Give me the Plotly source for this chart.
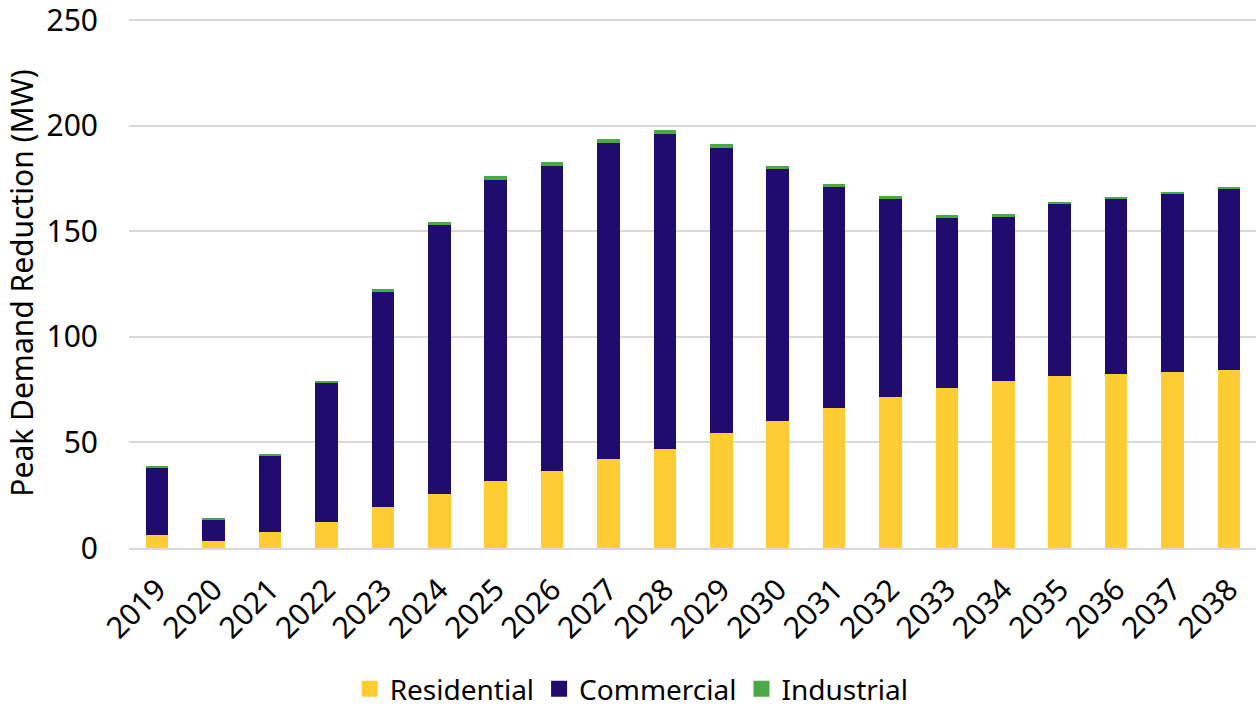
import plotly.graph_objects as go

years = [str(y) for y in range(2019, 2039)]
residential = [6.2, 3.5, 7.4, 12.4, 19.3, 25.7, 31.7, 36.7, 42.0, 47.1,
               54.3, 60.3, 66.4, 71.5, 76.0, 79.0, 81.4, 82.3, 83.3, 84.5]
commercial = [31.9, 10.0, 36.1, 65.6, 102.1, 127.1, 142.7, 144.0, 149.9, 148.9,
              135.1, 119.3, 104.6, 93.8, 80.4, 77.9, 81.6, 83.2, 84.5, 85.7]
industrial = [0.3, 0.3, 1.1, 1.0, 1.3, 1.4, 1.7, 2.0, 1.9, 1.8,
              1.9, 1.3, 1.4, 1.4, 1.3, 1.4, 0.9, 0.8, 0.8, 0.8]
y_ticks = [0, 50, 100, 150, 200, 250]

FONT = "Noto Sans"
series = [("Residential", residential, "#FFCC33"),
          ("Commercial", commercial, "#200C6E"),
          ("Industrial", industrial, "#4BA846")]

fig = go.Figure()
for name, vals, color in series:
    fig.add_trace(go.Bar(x=years, y=vals, name=name, marker_color=color,
                         marker_line_width=0, showlegend=False, legendgroup=name))
# legend entries with larger square swatches
for name, vals, color in series:
    fig.add_trace(go.Scatter(x=[years[0]], y=[None], mode="markers", name=name,
                             legendgroup=name, hoverinfo="skip",
                             marker=dict(symbol="square", size=18, color=color)))

fig.update_layout(
    barmode="stack",
    bargap=0.6,
    width=1257, height=715,
    margin=dict(l=129, r=1, t=18, b=159),
    plot_bgcolor="white", paper_bgcolor="white",
    font=dict(family=FONT, color="black", size=28),
    legend=dict(orientation="h", x=0.446, xanchor="center", y=-0.266, yanchor="middle",
                font=dict(size=28, family=FONT), itemwidth=30, traceorder="normal"),
    showlegend=True,
)
fig.update_yaxes(range=[0, 251], tickvals=y_ticks, showgrid=True, gridcolor="#D9D9D9",
                 gridwidth=2, zeroline=False, showline=False, automargin=False,
                 ticklabeloverflow="allow",
                 tickfont=dict(size=30, family=FONT), ticks="", ticklabelstandoff=30,
                 title=dict(text="Peak Demand Reduction (MW)", font=dict(size=30, family=FONT), standoff=4))
fig.update_xaxes(type="category", range=[-0.5, 19.48], tickangle=-45,
                 tickfont=dict(size=30, family=FONT), showline=True,
                 automargin=False, ticklabeloverflow="allow",
                 linecolor="#D9D9D9", linewidth=2, ticks="", ticklabelstandoff=10)

fig.write_html("out.html", config={"displayModeBar": False},
               post_script="document.body.style.margin='0';document.body.style.overflow='hidden';")
